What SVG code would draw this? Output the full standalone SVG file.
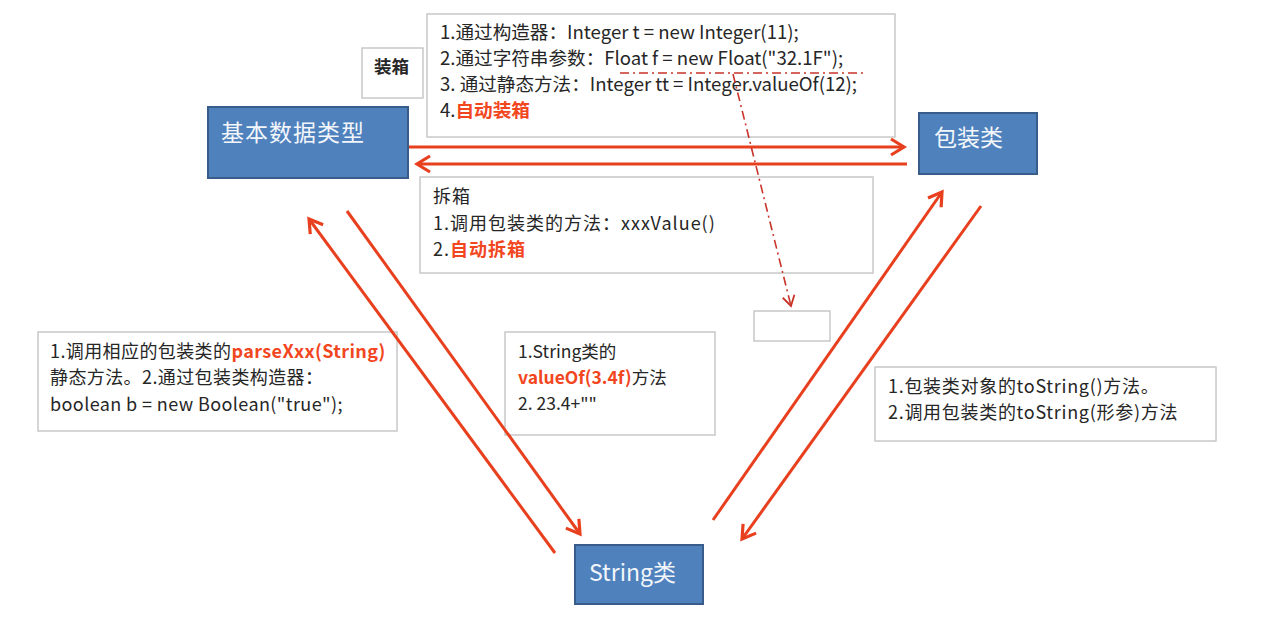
<svg xmlns="http://www.w3.org/2000/svg" width="1268" height="628" viewBox="0 0 1268 628">
<style>
  .t{font-family:"Noto Sans CJK SC","Liberation Sans",sans-serif;font-size:17.5px;fill:#262626}
  .b1{font-size:18.6px}
  .b2{font-size:18px;letter-spacing:1px}
  .b3{font-size:18px;letter-spacing:0.4px}
  .b4{font-size:18px;letter-spacing:0.7px}
  .r{fill:#f2461e;font-weight:bold}
  .box{fill:#ffffff;stroke:#c8c8c8;stroke-width:1.5}
  .node{fill:#4f81bd;stroke:#385d8a;stroke-width:2}
  .nt{font-family:"Noto Sans CJK SC","Liberation Sans",sans-serif;font-size:23px;fill:#f2f6fb}
  .arr{stroke:#e8401e;stroke-width:3;fill:none;marker-end:url(#ah)}
  .dd{stroke:#c8342a;stroke-width:1.6;fill:none;stroke-dasharray:9 4 2 4}
</style>
<defs>
  <marker id="ah" markerUnits="userSpaceOnUse" markerWidth="22" markerHeight="22" viewBox="0 0 22 22" refX="16" refY="11" orient="auto">
    <path d="M3,3 L16,11 L3,19" fill="none" stroke="#e8401e" stroke-width="3.2"/>
  </marker>
  <marker id="ah2" markerUnits="userSpaceOnUse" markerWidth="16" markerHeight="16" viewBox="0 0 16 16" refX="12" refY="8" orient="auto">
    <path d="M2,2 L12,8 L2,14" fill="none" stroke="#c8342a" stroke-width="1.8"/>
  </marker>
</defs>
<rect width="1268" height="628" fill="#ffffff"/>

<g id="box-boxing">
  <rect class="box" x="427" y="14" width="468" height="123"/>
  <text class="t b1" x="440" y="39">1.通过构造器：Integer t = new Integer(11);</text>
  <text class="t b1" x="440" y="65">2.通过字符串参数：Float f = new Float("32.1F");</text>
  <text class="t b1" x="440" y="91">3. 通过静态方法：Integer tt = Integer.valueOf(12);</text>
  <text class="t b1" x="440" y="117">4.<tspan class="r">自动装箱</tspan></text>
</g>
<g id="label-boxing">
  <rect class="box" x="362" y="48" width="61" height="50"/>
  <text class="t" x="374" y="73" font-weight="bold" font-size="18">装箱</text>
</g>
<g id="box-unboxing">
  <rect class="box" x="420" y="177" width="453" height="96"/>
  <text class="t b2" x="433" y="203">拆箱</text>
  <text class="t b2" x="433" y="230">1.调用包装类的方法：xxxValue()</text>
  <text class="t b2" x="433" y="256">2.<tspan class="r">自动拆箱</tspan></text>
</g>
<g id="box-small">
  <rect class="box" x="754" y="311" width="76" height="30"/>
</g>
<g id="box-parse">
  <rect class="box" x="38" y="332" width="359" height="99"/>
  <text class="t b3" x="50" y="358">1.调用相应的包装类的<tspan class="r">parseXxx(String)</tspan></text>
  <text class="t b3" x="50" y="384">静态方法。2.通过包装类构造器：</text>
  <text class="t b3" x="50" y="411">boolean b = new Boolean("true");</text>
</g>
<g id="box-valueof">
  <rect class="box" x="505" y="332" width="210" height="103"/>
  <text class="t" x="518" y="358">1.String类的</text>
  <text class="t" x="518" y="384"><tspan class="r">valueOf(3.4f)</tspan>方法</text>
  <text class="t" x="518" y="410">2. 23.4+""</text>
</g>
<g id="box-tostring">
  <rect class="box" x="875" y="367" width="341" height="74"/>
  <text class="t b4" x="888" y="393">1.包装类对象的toString()方法。</text>
  <text class="t b4" x="888" y="419">2.调用包装类的toString(形参)方法</text>
</g>

<g id="node-primitive">
  <rect class="node" x="208" y="107" width="200" height="71"/>
  <text class="nt" x="221" y="141" font-size="24" letter-spacing="1">基本数据类型</text>
</g>
<g id="node-wrapper">
  <rect class="node" x="919" y="113" width="118" height="61"/>
  <text class="nt" x="934" y="146" font-size="24">包装类</text>
</g>
<g id="node-string">
  <rect class="node" x="575" y="545" width="128" height="59"/>
  <text class="nt" x="589" y="581">String类</text>
</g>

<g id="connectors">
  <line class="arr" x1="409" y1="147" x2="904" y2="147"/>
  <line class="arr" x1="907" y1="164" x2="417" y2="164"/>
  <line class="arr" x1="555" y1="553" x2="309" y2="219"/>
  <line class="arr" x1="347" y1="211" x2="580" y2="534"/>
  <line class="arr" x1="713" y1="520" x2="942" y2="192"/>
  <line class="arr" x1="981" y1="206" x2="742" y2="539"/>
  <line class="dd" x1="620" y1="73" x2="866" y2="73"/>
  <line class="dd" x1="733" y1="74" x2="791" y2="306" marker-end="url(#ah2)"/>
</g>
</svg>
